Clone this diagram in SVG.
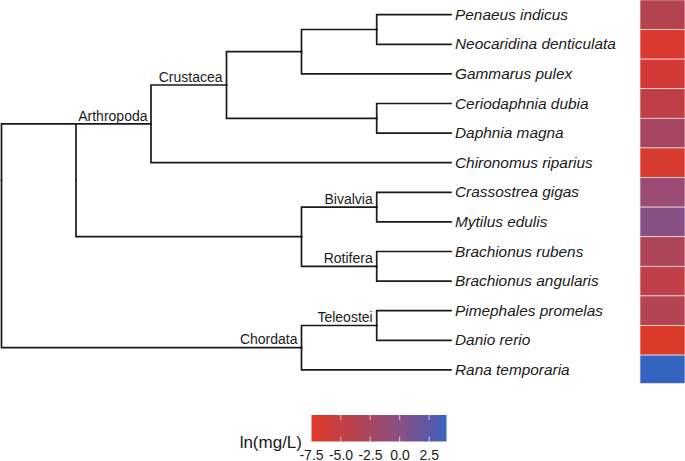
<svg xmlns="http://www.w3.org/2000/svg" width="685" height="461" viewBox="0 0 685 461">
<defs>
<style>
.e{fill:none;stroke:#1a1a1a;stroke-width:1.7;stroke-linecap:square;stroke-linejoin:miter}
.tip{font-family:"Liberation Sans",Arial,sans-serif;font-style:italic;font-size:15.4px;fill:#1a1a1a}
.cl{font-family:"Liberation Sans",Arial,sans-serif;font-size:14px;fill:#1a1a1a;text-anchor:end}
.tile{stroke:#f4e6e8;stroke-width:0.7}
.tk{font-family:"Liberation Sans",Arial,sans-serif;font-size:14px;fill:#1a1a1a;text-anchor:middle}
.tm{stroke:#ffffff;stroke-width:0.8;opacity:0.85}
</style>
<linearGradient id="grad" x1="0" y1="0" x2="1" y2="0">
<stop offset="0" stop-color="#df3a28"/>
<stop offset="0.22" stop-color="#c43f44"/>
<stop offset="0.43" stop-color="#a8475f"/>
<stop offset="0.65" stop-color="#8a5083"/>
<stop offset="0.86" stop-color="#6057a6"/>
<stop offset="1" stop-color="#3a64c0"/>
</linearGradient>
</defs>
<rect width="685" height="461" fill="#ffffff"/>
<g id="connectors">
<path class="e" d="M1.5,180.3 V123.85 H76"/>
<path class="e" d="M1.5,180.3 V347.7 H301.5"/>
<path class="e" d="M76,180.3 V123.85 H151"/>
<path class="e" d="M76,180.3 V236.7 H301.5"/>
<path class="e" d="M151,123.85 V85 H226.5"/>
<path class="e" d="M151,123.85 V162.7 H451"/>
<path class="e" d="M226.5,85 V51.7 H301.5"/>
<path class="e" d="M226.5,85 V118.3 H376.7"/>
<path class="e" d="M301.5,51.7 V29.5 H376.7"/>
<path class="e" d="M301.5,51.7 V73.9 H451"/>
<path class="e" d="M376.7,29.5 V14.7 H451"/>
<path class="e" d="M376.7,29.5 V44.3 H451"/>
<path class="e" d="M376.7,118.3 V103.5 H451"/>
<path class="e" d="M376.7,118.3 V133.1 H451"/>
<path class="e" d="M301.5,236.7 V207.1 H376.7"/>
<path class="e" d="M301.5,236.7 V266.3 H376.7"/>
<path class="e" d="M376.7,207.1 V192.3 H451"/>
<path class="e" d="M376.7,207.1 V221.9 H451"/>
<path class="e" d="M376.7,266.3 V251.5 H451"/>
<path class="e" d="M376.7,266.3 V281.1 H451"/>
<path class="e" d="M301.5,347.7 V325.5 H376.7"/>
<path class="e" d="M301.5,347.7 V369.9 H451"/>
<path class="e" d="M376.7,325.5 V310.7 H451"/>
<path class="e" d="M376.7,325.5 V340.3 H451"/>
</g>
<g id="arthropoda"><text class="cl" x="147.5" y="120.5">Arthropoda</text></g>
<g id="crustacea"><text class="cl" x="222.5" y="81.5">Crustacea</text></g>
<g id="bivalvia"><text class="cl" x="372.7" y="203.5">Bivalvia</text></g>
<g id="rotifera"><text class="cl" x="372.7" y="262.7">Rotifera</text></g>
<g id="teleostei"><text class="cl" x="372.7" y="321.9">Teleostei</text></g>
<g id="chordata"><text class="cl" x="297.5" y="344.1">Chordata</text></g>
<g id="penaeus"><text class="tip" x="455" y="19.7">Penaeus indicus</text><rect class="tile" x="640" y="-0.1" width="45" height="29.6" fill="#b4434f"/></g>
<g id="neocaridina"><text class="tip" x="455" y="49.3">Neocaridina denticulata</text><rect class="tile" x="640" y="29.5" width="45" height="29.6" fill="#d9392e"/></g>
<g id="gammarus"><text class="tip" x="455" y="78.9">Gammarus pulex</text><rect class="tile" x="640" y="59.1" width="45" height="29.6" fill="#d13a37"/></g>
<g id="ceriodaphnia"><text class="tip" x="455" y="108.5">Ceriodaphnia dubia</text><rect class="tile" x="640" y="88.7" width="45" height="29.6" fill="#c03f46"/></g>
<g id="daphnia"><text class="tip" x="455" y="138.1">Daphnia magna</text><rect class="tile" x="640" y="118.3" width="45" height="29.6" fill="#a64663"/></g>
<g id="chironomus"><text class="tip" x="455" y="167.7">Chironomus riparius</text><rect class="tile" x="640" y="147.9" width="45" height="29.6" fill="#d83a30"/></g>
<g id="crassostrea"><text class="tip" x="455" y="197.3">Crassostrea gigas</text><rect class="tile" x="640" y="177.5" width="45" height="29.6" fill="#9b4b74"/></g>
<g id="mytilus"><text class="tip" x="455" y="226.9">Mytilus edulis</text><rect class="tile" x="640" y="207.1" width="45" height="29.6" fill="#885186"/></g>
<g id="brachionus-rubens"><text class="tip" x="455" y="256.5">Brachionus rubens</text><rect class="tile" x="640" y="236.7" width="45" height="29.6" fill="#ae4558"/></g>
<g id="brachionus-angularis"><text class="tip" x="455" y="286.1">Brachionus angularis</text><rect class="tile" x="640" y="266.3" width="45" height="29.6" fill="#bf4048"/></g>
<g id="pimephales"><text class="tip" x="455" y="315.7">Pimephales promelas</text><rect class="tile" x="640" y="295.9" width="45" height="29.6" fill="#b44452"/></g>
<g id="danio"><text class="tip" x="455" y="345.3">Danio rerio</text><rect class="tile" x="640" y="325.5" width="45" height="29.6" fill="#dc3a29"/></g>
<g id="rana"><text class="tip" x="455" y="374.9">Rana temporaria</text><rect class="tile" x="640" y="355.1" width="45" height="28.4" fill="#3464bf"/></g>
<g id="legend">
<text x="302" y="447.5" font-family="'Liberation Sans',Arial,sans-serif" font-size="17px" fill="#1a1a1a" text-anchor="end">ln(mg/L)</text>
<rect x="311.5" y="415" width="135" height="26.5" fill="url(#grad)"/>
<path class="tm" d="M340.7,415 v5 M370.2,415 v5 M399.7,415 v5 M429.2,415 v5 M340.7,441.5 v-5 M370.2,441.5 v-5 M399.7,441.5 v-5 M429.2,441.5 v-5"/>
<text class="tk" x="311.5" y="459.5">-7.5</text>
<text class="tk" x="341" y="459.5">-5.0</text>
<text class="tk" x="370.5" y="459.5">-2.5</text>
<text class="tk" x="400" y="459.5">0.0</text>
<text class="tk" x="429.2" y="459.5">2.5</text>
</g>
</svg>
